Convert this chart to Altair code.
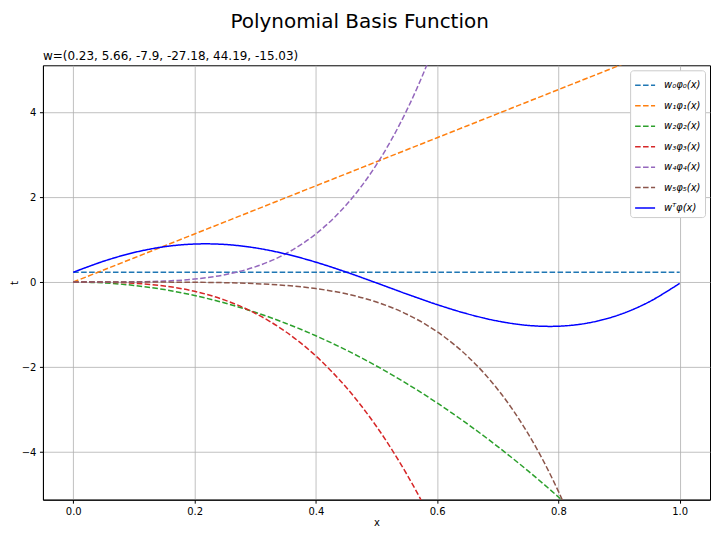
import altair as alt
import pandas as pd

# x grid and the value of each basis term
x_vals = [0.0, 0.05, 0.1, 0.15, 0.2, 0.25, 0.3, 0.35, 0.4, 0.45, 0.5,
          0.55, 0.6, 0.65, 0.7, 0.75, 0.8, 0.85, 0.9, 0.95, 1.0]
w0phi0 = [0.23, 0.23, 0.23, 0.23, 0.23, 0.23, 0.23, 0.23, 0.23, 0.23, 0.23,
          0.23, 0.23, 0.23, 0.23, 0.23, 0.23, 0.23, 0.23, 0.23, 0.23]
w1phi1 = [0.0, 0.283, 0.566, 0.849, 1.132, 1.415, 1.698, 1.981, 2.264, 2.547, 2.83,
          3.113, 3.396, 3.679, 3.962, 4.245, 4.528, 4.811, 5.094, 5.377, 5.66]
w2phi2 = [0.0, -0.0198, -0.079, -0.1778, -0.316, -0.4938, -0.711, -0.9678, -1.264, -1.5998, -1.975,
          -2.3898, -2.844, -3.3378, -3.871, -4.4438, -5.056, -5.7078, -6.399, -7.1298, -7.9]
w3phi3 = [0.0, -0.0034, -0.0272, -0.0917, -0.2174, -0.4247, -0.7339, -1.1653, -1.7395, -2.4768, -3.3975,
          -4.5221, -5.8709, -7.4643, -9.3227, -11.4666, -13.9162, -16.6919, -19.8142, -23.3035, -27.18]
w4phi4 = [0.0, 0.0003, 0.0044, 0.0224, 0.0707, 0.1726, 0.3579, 0.6631, 1.1313, 1.8121, 2.7619,
          4.0437, 5.727, 7.8882, 10.61, 13.982, 18.1002, 23.0675, 28.9931, 35.993, 44.19]
w5phi5 = [0.0, 0.0, -0.0002, -0.0011, -0.0048, -0.0147, -0.0365, -0.0789, -0.1539, -0.2773, -0.4697,
          -0.7564, -1.1687, -1.7439, -2.5261, -3.5667, -4.925, -6.6689, -8.8751, -11.6299, -15.03]
wt_phi = [0.23, 0.4901, 0.6941, 0.8307, 0.8945, 0.8845, 0.8046, 0.6621, 0.4678, 0.2352, -0.0203,
          -0.2816, -0.5306, -0.7488, -0.9178, -1.02, -1.039, -0.9601, -0.7712, -0.4631, -0.03]

labels = ["w₀φ₀(x)", "w₁φ₁(x)", "w₂φ₂(x)", "w₃φ₃(x)", "w₄φ₄(x)", "w₅φ₅(x)", "wᵀφ(x)"]
colors = ["#1f77b4", "#ff7f0e", "#2ca02c", "#d62728", "#9467bd", "#8c564b", "#0000ff"]
dashes = [[5.55, 2.4]] * 6 + [[1, 0]]
x_ticks = [0.0, 0.2, 0.4, 0.6, 0.8, 1.0]
y_ticks = [-4, -2, 0, 2, 4]

series = [w0phi0, w1phi1, w2phi2, w3phi3, w4phi4, w5phi5, wt_phi]
rows = []
for lab, vals in zip(labels, series):
    for xv, yv in zip(x_vals, vals):
        rows.append({"x": xv, "y": yv, "series": lab})
df = pd.DataFrame(rows)

FONT = "DejaVu Sans"

leg = alt.Legend(
    orient="top-right", offset=5, padding=4, fillColor="white",
    strokeColor="#cccccc", cornerRadius=3, symbolType="stroke",
    symbolSize=400, symbolStrokeWidth=1.5, labelFont=FONT,
    labelFontSize=10, labelFontStyle="italic", labelColor="black",
    rowPadding=4.5, labelOffset=8,
)

enc = dict(
    x=alt.X("x:Q", scale=alt.Scale(domain=[-0.05, 1.05], nice=False, zero=False),
            axis=alt.Axis(values=x_ticks, format=".1f", title="x", titlePadding=1)),
    y=alt.Y("y:Q", scale=alt.Scale(domain=[-5.12, 5.1], nice=False, zero=False),
            axis=alt.Axis(values=y_ticks, format="d", title="t", titlePadding=2)),
    color=alt.Color("series:N", scale=alt.Scale(domain=labels, range=colors),
                    title=None, legend=leg),
    strokeDash=alt.StrokeDash("series:N", scale=alt.Scale(domain=labels, range=dashes),
                              title=None, legend=leg),
)

base = alt.Chart(df)
dashed = base.mark_line(clip=True, strokeWidth=1.5, interpolate="catmull-rom").encode(**enc).transform_filter(
    alt.datum.series != "wᵀφ(x)")
solid = base.mark_line(clip=True, strokeWidth=1.5, interpolate="catmull-rom").encode(**enc).transform_filter(
    alt.datum.series == "wᵀφ(x)")

plot = alt.layer(dashed, solid).properties(
    width=668, height=435,
    title=alt.TitleParams("w=(0.23, 5.66, -7.9, -27.18, 44.19, -15.03)", anchor="start",
                          frame="group", fontSize=12, font=FONT, fontWeight="normal",
                          color="black", offset=2),
)

chart = alt.vconcat(plot, title=alt.TitleParams(
    "Polynomial Basis Function", anchor="middle", fontSize=20, font=FONT,
    fontWeight="normal", color="black", offset=18),
).properties(padding={"top": 3, "left": 0, "right": 0, "bottom": 0}).configure_view(
    stroke="black", strokeWidth=1
).configure_axis(
    gridColor="#b0b0b0", gridWidth=0.8, domainColor="black", domainWidth=1,
    tickColor="black", tickSize=3.5, labelPadding=3.5, labelColor="black",
    titleColor="black", labelFont=FONT, titleFont=FONT, labelFontSize=10,
    titleFontSize=10, titleFontWeight="normal",
)

chart.save("out.html", embed_options={"renderer": "svg", "actions": False})
